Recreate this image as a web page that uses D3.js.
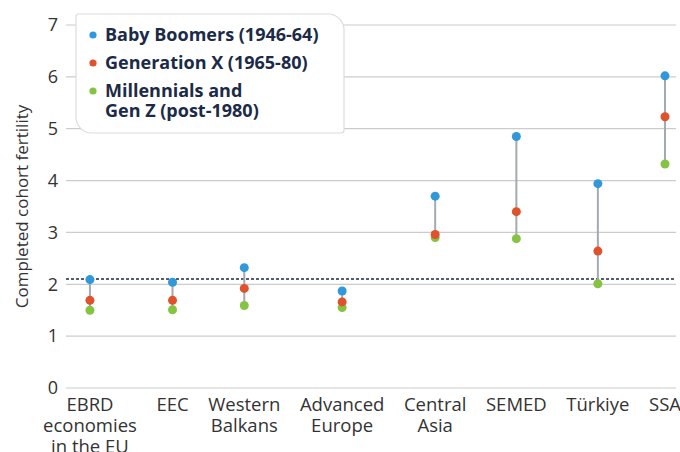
<!DOCTYPE html>
<html>
<head>
<meta charset="utf-8">
<script src="https://cdn.jsdelivr.net/npm/d3@7"></script>
<style>
  body { margin: 0; background: #fff; }
  text { font-family: "Open Sans", "Noto Sans", sans-serif; }
</style>
</head>
<body>
<div id="chart"></div>
<script>
// categories and values
let categories = ["EBRD economies in the EU", "EEC", "Western Balkans", "Advanced Europe",
                  "Central Asia", "SEMED", "Türkiye", "SSA"];
let categoryLines = [["EBRD", "economies", "in the EU"], ["EEC"], ["Western", "Balkans"],
                     ["Advanced", "Europe"], ["Central", "Asia"], ["SEMED"], ["Türkiye"], ["SSA"]];
let boomers = [2.09, 2.04, 2.32, 1.87, 3.70, 4.85, 3.94, 6.02];
let genX = [1.69, 1.69, 1.92, 1.66, 2.96, 3.40, 2.64, 5.23];
let millennials = [1.50, 1.51, 1.59, 1.55, 2.90, 2.88, 2.01, 4.32];
let replacement = 2.1;
let yTicks = [0, 1, 2, 3, 4, 5, 6, 7];
let seriesNames = [["Baby Boomers (1946-64)"], ["Generation X (1965-80)"], ["Millennials and", "Gen Z (post-1980)"]];
let seriesColors = ["#3199da", "#e0522b", "#85c443"];

let width = 680, height = 452;
let margin = { top: 25, right: 4, bottom: 64, left: 66 };

let svg = d3.select("#chart")
    .append("svg")
    .attr("width", width)
    .attr("height", height);

let y = d3.scaleLinear()
    .domain([0, 7])
    .range([height - margin.bottom, margin.top]);

// grid lines
svg.append("g")
    .selectAll("line")
    .data(yTicks)
    .enter()
    .append("line")
    .attr("x1", margin.left)
    .attr("x2", width - margin.right)
    .attr("y1", d => y(d))
    .attr("y2", d => y(d))
    .attr("stroke", "#cccccc")
    .attr("stroke-width", 1.2);

// y tick labels
svg.append("g")
    .selectAll("text")
    .data(yTicks)
    .enter()
    .append("text")
    .attr("x", margin.left - 8)
    .attr("y", d => y(d))
    .attr("dy", "0.35em")
    .attr("text-anchor", "end")
    .style("font-size", "18px")
    .style("fill", "#333")
    .text(d => d);

svg.append("text")
    .attr("transform", "translate(22," + ((y(0) + y(7)) / 2) + ") rotate(-90)")
    .attr("text-anchor", "middle")
    .attr("dy", "0.35em")
    .style("font-size", "17px")
    .style("fill", "#333")
    .text("Completed cohort fertility");

// x labels: place them side by side with equal gaps, sized by their own width
let xLabels = svg.append("g");
let labelGroups = xLabels.selectAll("text")
    .data(categoryLines)
    .enter()
    .append("text")
    .attr("y", 411)
    .attr("text-anchor", "middle")
    .style("font-size", "18.5px")
    .style("fill", "#333");
labelGroups.selectAll("tspan")
    .data(d => d)
    .enter()
    .append("tspan")
    .attr("x", 0)
    .attr("dy", (d, i) => i === 0 ? 0 : 21)
    .text(d => d);

let widths = [];
labelGroups.each(function () {
    let w = 0;
    d3.select(this).selectAll("tspan").each(function () {
        w = Math.max(w, this.getComputedTextLength());
    });
    widths.push(w);
});
let leftEdge = 43, rightEdge = 681;
let gap = (rightEdge - leftEdge - d3.sum(widths)) / (widths.length - 1);
let centers = [];
let cursor = leftEdge;
widths.forEach(w => { centers.push(cursor + w / 2); cursor += w + gap; });

let x = d3.scaleOrdinal()
    .domain(categories)
    .range(centers);

labelGroups.attr("transform", (d, i) => "translate(" + x(categories[i]) + ",0)");

// replacement line
svg.append("line")
    .attr("x1", margin.left)
    .attr("x2", width - margin.right)
    .attr("y1", y(replacement))
    .attr("y2", y(replacement))
    .attr("stroke", "#1b2a47")
    .attr("stroke-width", 1.5)
    .attr("stroke-dasharray", "3,2");

let rows = categories.map((c, i) => ({ cat: c, values: [boomers[i], genX[i], millennials[i]] }));

// stems
svg.append("g")
    .selectAll("line")
    .data(rows)
    .enter()
    .append("line")
    .attr("x1", d => x(d.cat))
    .attr("x2", d => x(d.cat))
    .attr("y1", d => y(d3.max(d.values)))
    .attr("y2", d => y(d3.min(d.values)))
    .attr("stroke", "#a3aab2")
    .attr("stroke-width", 2);

// dots
[millennials, genX, boomers].forEach(function (series) {
    let k = series === boomers ? 0 : series === genX ? 1 : 2;
    svg.append("g")
        .selectAll("circle")
        .data(series)
        .enter()
        .append("circle")
        .attr("cx", (d, i) => x(categories[i]))
        .attr("cy", d => y(d))
        .attr("r", 4.5)
        .attr("fill", seriesColors[k]);
});

// legend
let lx = 76, ly = 14, lw = 268, lh = 119, rBig = 16, rSmall = 3;
let legendPath = d3.path();
legendPath.moveTo(lx + rSmall, ly);
legendPath.lineTo(lx + lw - rBig, ly);
legendPath.arcTo(lx + lw, ly, lx + lw, ly + rBig, rBig);
legendPath.lineTo(lx + lw, ly + lh - rSmall);
legendPath.arcTo(lx + lw, ly + lh, lx + lw - rSmall, ly + lh, rSmall);
legendPath.lineTo(lx + rBig, ly + lh);
legendPath.arcTo(lx, ly + lh, lx, ly + lh - rBig, rBig);
legendPath.lineTo(lx, ly + rSmall);
legendPath.arcTo(lx, ly, lx + rSmall, ly, rSmall);
legendPath.closePath();

svg.append("path")
    .attr("d", legendPath.toString())
    .attr("fill", "#fff")
    .attr("stroke", "#dcdcdc")
    .attr("stroke-width", 1.2);

let legendRowY = [35, 63, 91];
seriesNames.forEach(function (lines, i) {
    svg.append("circle")
        .attr("cx", 93)
        .attr("cy", legendRowY[i])
        .attr("r", 3.6)
        .attr("fill", seriesColors[i]);
    svg.append("text")
        .attr("y", legendRowY[i] + 6)
        .style("font-size", "18px")
        .style("font-weight", "bold")
        .style("fill", "#1b2a47")
        .selectAll("tspan")
        .data(lines)
        .enter()
        .append("tspan")
        .attr("x", 105)
        .attr("dy", (d, j) => j === 0 ? 0 : 20)
        .text(d => d);
});
</script>
</body>
</html>
